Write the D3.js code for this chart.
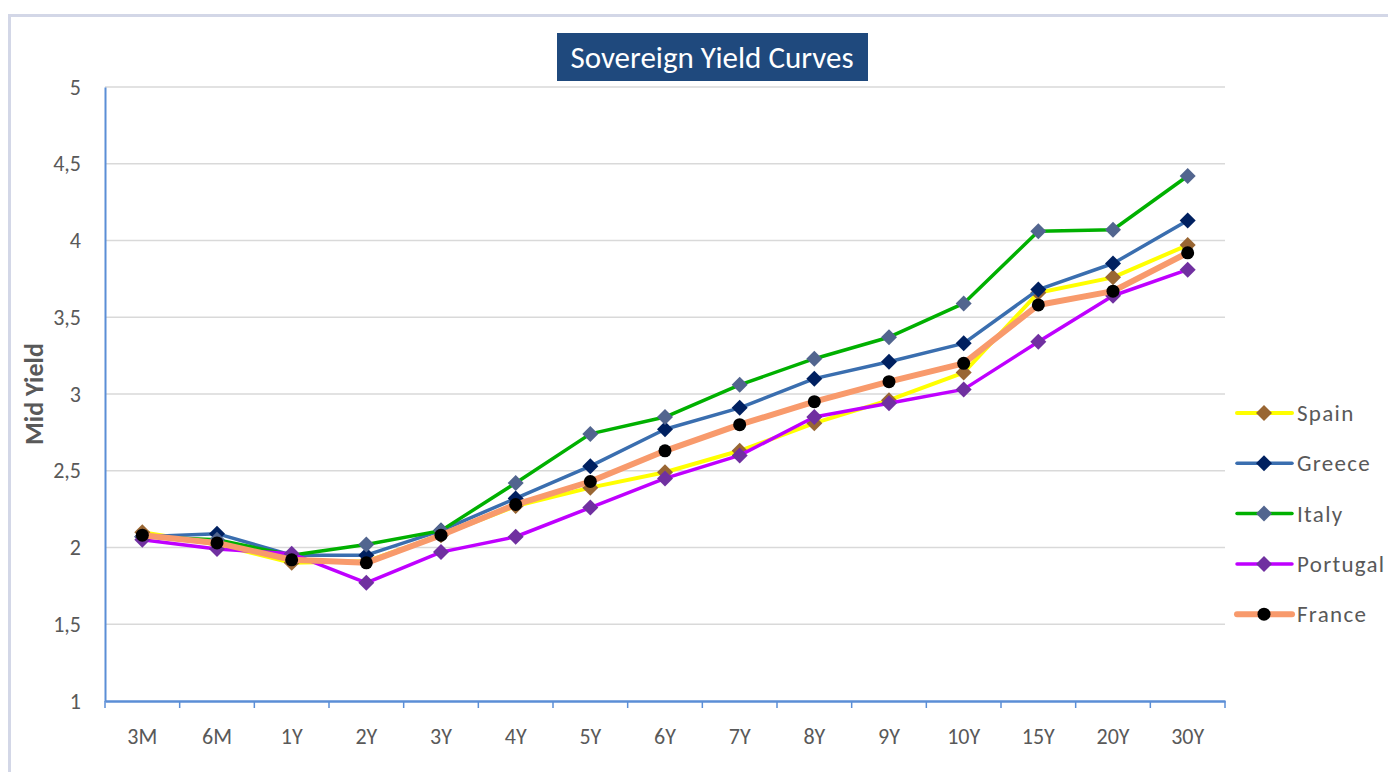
<!DOCTYPE html>
<html>
<head>
<meta charset="utf-8">
<script src="https://cdn.jsdelivr.net/npm/d3@7"></script>
<style>
  body { margin: 0; background: #fff; }
  svg { display: block; font-family: Calibri, Carlito, Lato, "Open Sans", sans-serif; }
</style>
</head>
<body>
<svg id="chart" width="1388" height="772"></svg>
<script>
// tenors on the x axis
const tenors = ['3M', '6M', '1Y', '2Y', '3Y', '4Y', '5Y', '6Y', '7Y', '8Y', '9Y', '10Y', '15Y', '20Y', '30Y'];

// mid yields per country
const spain    = [2.10, 2.02, 1.90, 1.91, 2.08, 2.27, 2.39, 2.49, 2.63, 2.81, 2.96, 3.14, 3.66, 3.76, 3.97];
const greece   = [2.07, 2.09, 1.95, 1.95, 2.11, 2.32, 2.53, 2.77, 2.91, 3.10, 3.21, 3.33, 3.68, 3.85, 4.13];
const italy    = [2.07, 2.05, 1.95, 2.02, 2.11, 2.42, 2.74, 2.85, 3.06, 3.23, 3.37, 3.59, 4.06, 4.07, 4.42];
const portugal = [2.05, 1.99, 1.96, 1.77, 1.97, 2.07, 2.26, 2.45, 2.60, 2.85, 2.94, 3.03, 3.34, 3.64, 3.81];
const france   = [2.08, 2.03, 1.92, 1.90, 2.08, 2.28, 2.43, 2.63, 2.80, 2.95, 3.08, 3.20, 3.58, 3.67, 3.92];

const yTicks = [1, 1.5, 2, 2.5, 3, 3.5, 4, 4.5, 5];

const series = [
  { name: 'Spain',    values: spain,    line: '#FFFF00', width: 4,   marker: '#996633', shape: 'diamond' },
  { name: 'Greece',   values: greece,   line: '#3A6EAF', width: 3.5, marker: '#002060', shape: 'diamond' },
  { name: 'Italy',    values: italy,    line: '#00B000', width: 3.5, marker: '#52658F', shape: 'diamond' },
  { name: 'Portugal', values: portugal, line: '#BF00FF', width: 3.5, marker: '#7030A0', shape: 'diamond' },
  { name: 'France',   values: france,   line: '#F89A6C', width: 6,   marker: '#000000', shape: 'circle' }
];

const svg = d3.select('#chart');
const margin = { left: 105, right: 163, top: 87, bottom: 71 };
const W = 1388, H = 772;

// outer frame (only top and left edges are visible)
svg.append('path')
  .attr('d', 'M9.5,772 V15.5 H1388')
  .attr('fill', 'none')
  .attr('stroke', '#D3D7E7')
  .attr('stroke-width', 3);

const x = d3.scaleBand().domain(tenors).range([margin.left, W - margin.right]);
const y = d3.scaleLinear().domain([1, 5]).range([H - margin.bottom, margin.top]);

// gridlines
svg.append('g')
  .selectAll('line')
  .data(yTicks.filter(d => d > 1))
  .join('line')
  .attr('x1', margin.left).attr('x2', W - margin.right)
  .attr('y1', d => y(d)).attr('y2', d => y(d))
  .attr('stroke', '#D9D9D9')
  .attr('stroke-width', 1.5);

// y axis
const yAxis = svg.append('g')
  .attr('transform', `translate(${margin.left},0)`)
  .call(d3.axisLeft(y).tickValues(yTicks).tickSize(0).tickPadding(24)
    .tickFormat(d => String(d).replace('.', ',')));
yAxis.attr('font-family', 'inherit');
yAxis.select('.domain').attr('stroke', '#5B8ED6').attr('stroke-width', 2);
yAxis.selectAll('text').attr('fill', '#595959').style('font-size', '22px');

// x axis with ticks at category boundaries
const xAxis = svg.append('g')
  .attr('transform', `translate(0,${y(1)})`)
  .call(d3.axisBottom(x).tickSize(0).tickPadding(27));
xAxis.attr('font-family', 'inherit');
xAxis.select('.domain').attr('stroke', '#5B8ED6').attr('stroke-width', 2.5);
xAxis.selectAll('text').attr('fill', '#595959').style('font-size', '22px');
xAxis.append('g')
  .selectAll('line')
  .data(tenors.map(t => x(t)).concat([x.range()[1]]))
  .join('line')
  .attr('x1', d => d).attr('x2', d => d)
  .attr('y1', 0).attr('y2', 7)
  .attr('stroke', '#5B8ED6')
  .attr('stroke-width', 1.5);

// axis title
svg.append('text')
  .attr('transform', `translate(43,${(y(5) + y(1)) / 2}) rotate(-90)`)
  .attr('text-anchor', 'middle')
  .attr('fill', '#595959')
  .style('font-size', '26px')
  .attr('font-weight', 'bold')
  .text('Mid Yield');

// chart title
svg.append('rect')
  .attr('x', 557).attr('y', 33).attr('width', 311).attr('height', 48)
  .attr('fill', '#1F497D');
svg.append('text')
  .attr('x', 712).attr('y', 68)
  .attr('text-anchor', 'middle')
  .attr('fill', '#fff')
  .style('font-size', '31px')
  .text('Sovereign Yield Curves');

const cx = d => x(d) + x.bandwidth() / 2;
const diamond = (px, py, r) => `M${px},${py - r}L${px + r},${py}L${px},${py + r}L${px - r},${py}Z`;

const line = d3.line()
  .x((d, i) => cx(tenors[i]))
  .y(d => y(d));

series.forEach(s => {
  const g = svg.append('g');
  g.append('path')
    .datum(s.values)
    .attr('d', line)
    .attr('fill', 'none')
    .attr('stroke', s.line)
    .attr('stroke-width', s.width)
    .attr('stroke-linejoin', 'round');
  if (s.shape === 'circle') {
    g.selectAll('circle')
      .data(s.values)
      .join('circle')
      .attr('cx', (d, i) => cx(tenors[i]))
      .attr('cy', d => y(d))
      .attr('r', 6.5)
      .attr('fill', s.marker);
  } else {
    g.selectAll('path.mk')
      .data(s.values)
      .join('path')
      .attr('class', 'mk')
      .attr('d', (d, i) => diamond(cx(tenors[i]), y(d), 8))
      .attr('fill', s.marker);
  }
});

// legend
const legend = svg.append('g');
series.forEach((s, i) => {
  const ly = 413 + i * 50.3;
  const item = legend.append('g');
  item.append('line')
    .attr('x1', 1237).attr('x2', 1292)
    .attr('y1', ly).attr('y2', ly)
    .attr('stroke', s.line)
    .attr('stroke-width', s.width)
    .attr('stroke-linecap', 'round');
  if (s.shape === 'circle') {
    item.append('circle').attr('cx', 1264).attr('cy', ly).attr('r', 6.5).attr('fill', s.marker);
  } else {
    item.append('path').attr('d', diamond(1264, ly, 8)).attr('fill', s.marker);
  }
  item.append('text')
    .attr('x', 1297).attr('y', ly + 8)
    .attr('fill', '#595959')
    .style('font-size', '23px')
    .attr('letter-spacing', 1.3)
    .text(s.name);
});
</script>
</body>
</html>
